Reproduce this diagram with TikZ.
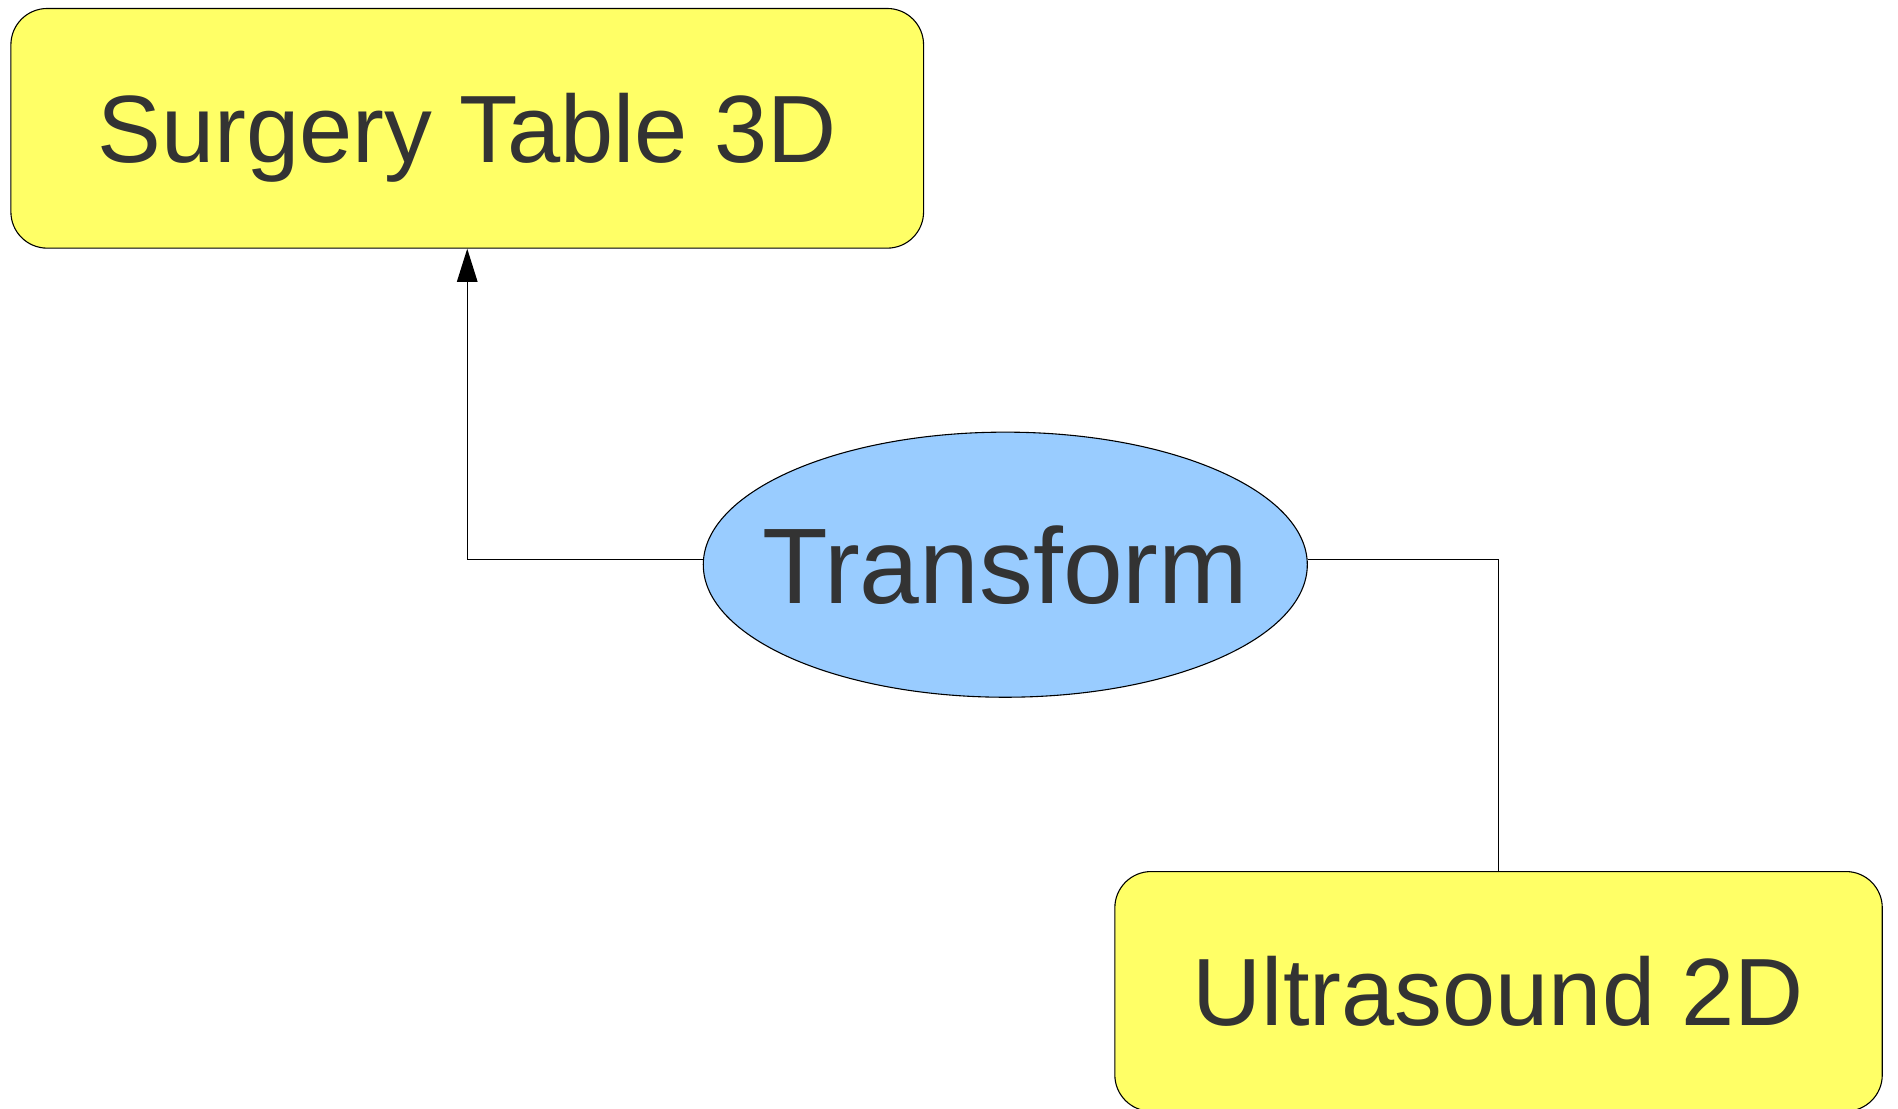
\documentclass[tikz,border=0pt]{standalone}
\usepackage{fontspec}
\setmainfont{Liberation Sans}
\usetikzlibrary{shapes.geometric,arrows.meta}
\definecolor{boxyellow}{HTML}{FFFF66}
\definecolor{ellblue}{HTML}{99CCFF}
\definecolor{txtgray}{HTML}{333333}
\tikzset{
  ybox/.style={draw=black, line width=0.45pt, fill=boxyellow, rounded corners=15pt,
    minimum width=377pt, minimum height=99pt, inner sep=0pt, text=txtgray,
    text height=28.3pt, text depth=0pt,
    font=\fontsize{39.5pt}{41pt}\selectfont},
  ybox2/.style={ybox, minimum width=317pt},
  bell/.style={ellipse, draw=black, line width=0.45pt, fill=ellblue,
    minimum width=249.5pt, minimum height=109.5pt, inner sep=0pt, text=txtgray,
    text height=31.8pt, text depth=0pt,
    font=\fontsize{44.4pt}{46pt}\selectfont},
  conn/.style={draw=black, line width=0.5pt}
}
\begin{document}
\begin{tikzpicture}[x=0.5pt,y=-0.5pt]
\useasboundingbox (0,0) rectangle (1568,916);
\node[ybox] (st) at (386,106) {Surgery Table 3D};
\node[bell] (tr) at (830.5,466.5) {\makebox[0pt]{Transform}};
\node[ybox2] (us) at (1238,819) {Ultrasound 2D};
\draw[conn, -{Triangle[length=13.75pt,width=8.5pt]}] ([yshift=2pt]tr.west) -| (st.south);
\draw[conn] ([yshift=2pt]tr.east) -| (us.north);
\end{tikzpicture}
\end{document}
